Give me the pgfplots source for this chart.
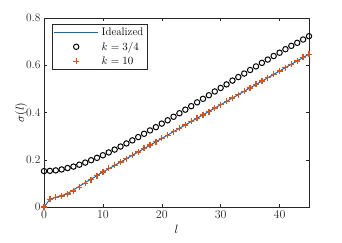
\documentclass[border=0pt]{standalone}
\usepackage{pgfplots}
\pgfplotsset{compat=1.18}
\definecolor{mblue}{rgb}{0,0.447,0.741}
\definecolor{morange}{rgb}{0.85,0.325,0.098}
\definecolor{mgray}{rgb}{0.15,0.15,0.15}
\pgfplotsset{
  longline legend/.style={legend image code/.code={\draw[##1] (0pt,0pt) -- (44pt,0pt);}},
  centermark legend/.style={legend image code/.code={\draw[##1] plot coordinates {(22pt,0pt)};}},
}
\pgfplotstableread{
l ideal circ cross
0 0.000 0.152 0.000
1 0.032 0.153 0.033
2 0.041 0.155 0.041
3 0.048 0.159 0.047
4 0.057 0.165 0.055
5 0.072 0.171 0.068
6 0.088 0.179 0.083
7 0.103 0.188 0.100
8 0.118 0.198 0.116
9 0.133 0.208 0.132
10 0.148 0.219 0.148
11 0.162 0.231 0.163
12 0.176 0.243 0.176
13 0.1903 0.256 0.190
14 0.2045 0.269 0.205
15 0.2188 0.282 0.219
16 0.2331 0.296 0.233
17 0.2474 0.310 0.248
18 0.2616 0.324 0.262
19 0.2759 0.338 0.276
20 0.2902 0.353 0.290
21 0.3044 0.367 0.304
22 0.3187 0.382 0.319
23 0.3330 0.397 0.333
24 0.3472 0.412 0.347
25 0.3615 0.427 0.362
26 0.3758 0.443 0.376
27 0.3901 0.458 0.390
28 0.4043 0.473 0.404
29 0.4186 0.489 0.419
30 0.4329 0.504 0.433
31 0.4471 0.519 0.447
32 0.4614 0.535 0.461
33 0.4757 0.550 0.476
34 0.4899 0.565 0.490
35 0.5042 0.580 0.504
36 0.5185 0.595 0.519
37 0.5328 0.610 0.533
38 0.5470 0.624 0.547
39 0.5613 0.639 0.561
40 0.5756 0.653 0.576
41 0.5898 0.668 0.590
42 0.6041 0.682 0.604
43 0.6184 0.695 0.618
44 0.6326 0.709 0.633
45 0.6469 0.723 0.647
}\datatable
\begin{document}
\begin{tikzpicture}
\begin{axis}[
  name=ax,
  scale only axis,
  width=265pt, height=189pt,
  xmin=0, xmax=45, ymin=0, ymax=0.8,
  xtick={0,10,20,30,40},
  ytick={0,0.2,0.4,0.6,0.8},
  yticklabels={0,0.2,0.4,0.6,0.8},
  tick align=inside,
  major tick length=3pt,
  axis line style={mgray, line width=0.5pt},
  tick style={mgray, line width=0.5pt},
  ticklabel style={font=\fontsize{11.5}{13}\selectfont, text=mgray},
  xlabel={$l$}, ylabel={$\sigma(l)$},
  label style={font=\fontsize{12.5}{14}\selectfont},
  xlabel style={yshift=0pt},
  ylabel style={yshift=-8pt},
  legend cell align=left,
  legend style={at={(0.03,0.968)}, anchor=north west, draw=mgray, line width=0.5pt,
    font=\fontsize{11}{13}\selectfont, row sep=1pt, inner sep=1.5pt,
    /tikz/every odd column/.append style={column sep=1pt},
    /tikz/every even column/.append style={column sep=3pt}},
]
\addplot[color=mblue, line width=1pt, no markers, longline legend]
  table[x=l, y=ideal] {\datatable};
\addlegendentry{Idealized}
\addplot[color=black, only marks, mark=o, mark size=2.7pt, line width=1pt, centermark legend]
  table[x=l, y=circ] {\datatable};
\addlegendentry{$k=3/4$}
\addplot[color=morange, only marks, mark=+, mark size=3pt, line width=1.3pt,
  mark options={draw=morange}, centermark legend]
  table[x=l, y=cross] {\datatable};
\addlegendentry{$k=10$}
\end{axis}
\path[use as bounding box] (ax.south west) ++(-44pt,-36pt) rectangle ++(342pt,243pt);
\end{tikzpicture}
\end{document}
